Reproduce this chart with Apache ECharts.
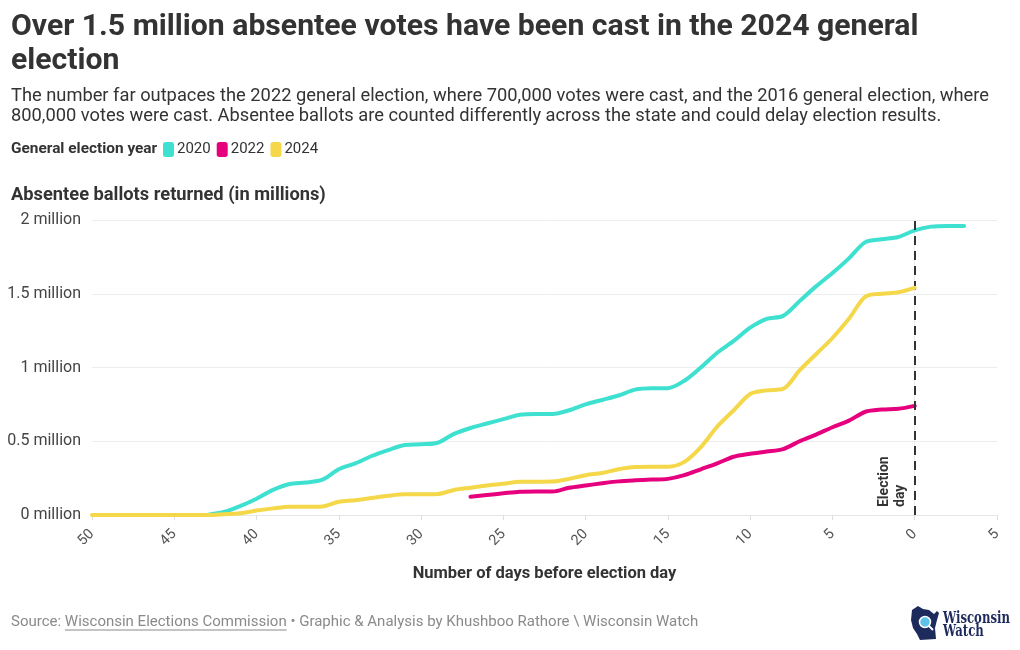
<!DOCTYPE html>
<html><head><meta charset="utf-8">
<script src="https://cdn.jsdelivr.net/npm/echarts@6/dist/echarts.min.js"></script>
<style>html,body{margin:0;padding:0;background:#fff}#c{width:1020px;height:650px}</style>
</head><body><div id="c"></div>
<script>
// ---- data (days before election day, absentee ballots returned in millions) ----
const days2020 = [43,42,41,40,39,38,37,36,35,34,33,32,31,30,29,28,27,26,25,24,23,22,21,20,19,18,17,16,15,14,13,12,11,10,9,8,7,6,5,4,3,2,1,0,-1,-2,-3];
const votes2020 = [0.00,0.02,0.06,0.11,0.17,0.21,0.22,0.24,0.31,0.35,0.40,0.44,0.475,0.48,0.49,0.55,0.59,0.62,0.65,0.68,0.685,0.685,0.71,0.75,0.78,0.81,0.85,0.86,0.86,0.91,1.00,1.10,1.18,1.27,1.33,1.35,1.45,1.55,1.64,1.74,1.85,1.87,1.885,1.93,1.955,1.96,1.96];
const days2022 = [27,26,25,24,23,22,21,20,19,18,17,16,15,14,13,12,11,10,9,8,7,6,5,4,3,2,1,0];
const votes2022 = [0.124,0.135,0.147,0.158,0.16,0.16,0.185,0.20,0.215,0.228,0.235,0.24,0.245,0.27,0.31,0.35,0.395,0.415,0.43,0.447,0.50,0.545,0.595,0.64,0.70,0.715,0.72,0.74];
const days2024 = [50,49,48,47,46,45,44,43,42,41,40,39,38,37,36,35,34,33,32,31,30,29,28,27,26,25,24,23,22,21,20,19,18,17,16,15,14,13,12,11,10,9,8,7,6,5,4,3,2,1,0];
const votes2024 = [0,0,0,0,0,0,0,0,0.005,0.012,0.03,0.045,0.056,0.056,0.058,0.09,0.10,0.115,0.13,0.14,0.14,0.142,0.17,0.185,0.20,0.212,0.225,0.226,0.227,0.245,0.27,0.285,0.31,0.325,0.327,0.327,0.36,0.46,0.60,0.71,0.82,0.845,0.855,0.98,1.09,1.20,1.33,1.48,1.50,1.51,1.54];
const seriesNames = ['2020','2022','2024'];
const seriesColors = ['#3ee0d0','#e6007e','#f4d84a'];
const electionDay = 0;

const FONT = 'Roboto, "Noto Sans", sans-serif';
const pairs = (d, v) => d.map((x, i) => [x, v[i]]);
const allData = [pairs(days2020, votes2020), pairs(days2022, votes2022), pairs(days2024, votes2024)];

const chart = echarts.init(document.getElementById('c'), null, {renderer: 'canvas'});

const series = seriesNames.map((n, i) => ({
  name: n, type: 'line', data: allData[i], showSymbol: false, smooth: 0.3,
  color: seriesColors[i],
  lineStyle: {width: 4, color: seriesColors[i], cap: 'round', join: 'round'},
  emphasis: {disabled: true}, z: 3 + i
}));
series[2].markLine = {
  silent: true, symbol: ['none','none'], animation: false,
  label: {show: false},
  lineStyle: {type: [9, 6], color: '#333', width: 2},
  data: [{xAxis: electionDay}]
};

chart.setOption({
  animation: false,
  textStyle: {fontFamily: FONT},
  grid: {left: 92, right: 23, top: 220, bottom: 135, containLabel: false},
  legend: {
    data: seriesNames, left: 163, top: 142, icon: 'roundRect',
    itemWidth: 11, itemHeight: 15, itemGap: 6, padding: 0,
    textStyle: {fontSize: 15, color: '#333', fontFamily: FONT, padding: [0,0,0,-2]},
    selectedMode: false
  },
  xAxis: {
    type: 'value', inverse: true, min: -5, max: 50, interval: 5,
    name: 'Number of days before election day', nameLocation: 'middle', nameGap: 50,
    nameTextStyle: {fontSize: 16.5, fontWeight: 'bold', color: '#333', fontFamily: FONT},
    axisLine: {show: true, lineStyle: {color: '#e6e6e6'}},
    axisTick: {show: true, length: 5, lineStyle: {color: '#ddd'}},
    axisLabel: {rotate: 45, fontSize: 14.5, color: '#555', margin: 17, fontFamily: FONT,
      formatter: v => String(Math.abs(v))},
    splitLine: {show: false}
  },
  yAxis: {
    type: 'value', min: 0, max: 2, interval: 0.5,
    axisLine: {show: true, lineStyle: {color: '#ececec'}},
    axisTick: {show: false},
    axisLabel: {formatter: v => v + ' million', fontSize: 16, color: '#444', margin: 11, fontFamily: FONT},
    splitLine: {lineStyle: {color: '#ececec'}}
  },
  series: series
});

const ed = chart.convertToPixel({gridIndex: 0}, [electionDay, 0]);

const mc = document.createElement('canvas').getContext('2d');
const FOOT = 15;
mc.font = FOOT + 'px ' + FONT;
const srcX = 11;
const wSource = mc.measureText('Source: ').width;
const wLink = mc.measureText('Wisconsin Elections Commission').width;
const LOGOFONT = 'bold 16px "DejaVu Serif", serif';
mc.font = LOGOFONT;
const sxWis = 67 / mc.measureText('Wisconsin').width;

chart.setOption({
  graphic: [
    {type: 'text', left: 11, top: 10, style: {
      text: 'Over 1.5 million absentee votes have been cast in the 2024 general\nelection',
      font: 'bold 30.2px ' + FONT, fill: '#333', lineHeight: 34}},
    {type: 'text', left: 11, top: 86, style: {
      text: 'The number far outpaces the 2022 general election, where 700,000 votes were cast, and the 2016 general election, where\n800,000 votes were cast. Absentee ballots are counted differently across the state and could delay election results.',
      font: '18.3px ' + FONT, fill: '#333', lineHeight: 20}},
    {type: 'text', left: 11, top: 141, style: {
      text: 'General election year', font: 'bold 15.4px ' + FONT, fill: '#333', lineHeight: 16}},
    {type: 'text', left: 11, top: 186, style: {
      text: 'Absentee ballots returned (in millions)', font: 'bold 18.3px ' + FONT, fill: '#333'}},
    {type: 'text', x: ed[0] - 22, y: ed[1] - 8, rotation: Math.PI / 2, style: {
      text: 'Election\nday', font: 'bold 14px ' + FONT, fill: '#333', align: 'left', verticalAlign: 'middle', lineHeight: 16}},
    {type: 'text', x: srcX, y: 622, style: {
      text: 'Source: Wisconsin Elections Commission • Graphic & Analysis by Khushboo Rathore \\ Wisconsin Watch',
      font: FOOT + 'px ' + FONT, fill: '#8a8a8a', verticalAlign: 'middle'}},
    {type: 'line', shape: {x1: srcX + wSource, y1: 630, x2: srcX + wSource + wLink, y2: 630}, style: {stroke: '#8a8a8a', lineWidth: 1}},
    // logo
    {type: 'polygon', shape: {points: [[912,610],[918,606],[923,609],[929,610],[934,614],[937,611],[939,613],[937,620],[935,628],[936,639],[920,640],[917,634],[913,628],[911,620]]}, style: {fill: '#1d2b5c'}},
    {type: 'circle', shape: {cx: 925, cy: 622, r: 5.5}, style: {fill: '#5ec3ea', stroke: '#fff', lineWidth: 1.5}},
    {type: 'line', shape: {x1: 929, y1: 626, x2: 933, y2: 630}, style: {stroke: '#fff', lineWidth: 2}},
    {type: 'text', x: 943, y: 619, scaleX: sxWis, style: {text: 'Wisconsin', font: LOGOFONT, fill: '#1d2b5c', verticalAlign: 'middle'}},
    {type: 'text', x: 943, y: 632, scaleX: sxWis, style: {text: 'Watch', font: LOGOFONT, fill: '#1d2b5c', verticalAlign: 'middle'}}
  ]
});
</script>
</body></html>
